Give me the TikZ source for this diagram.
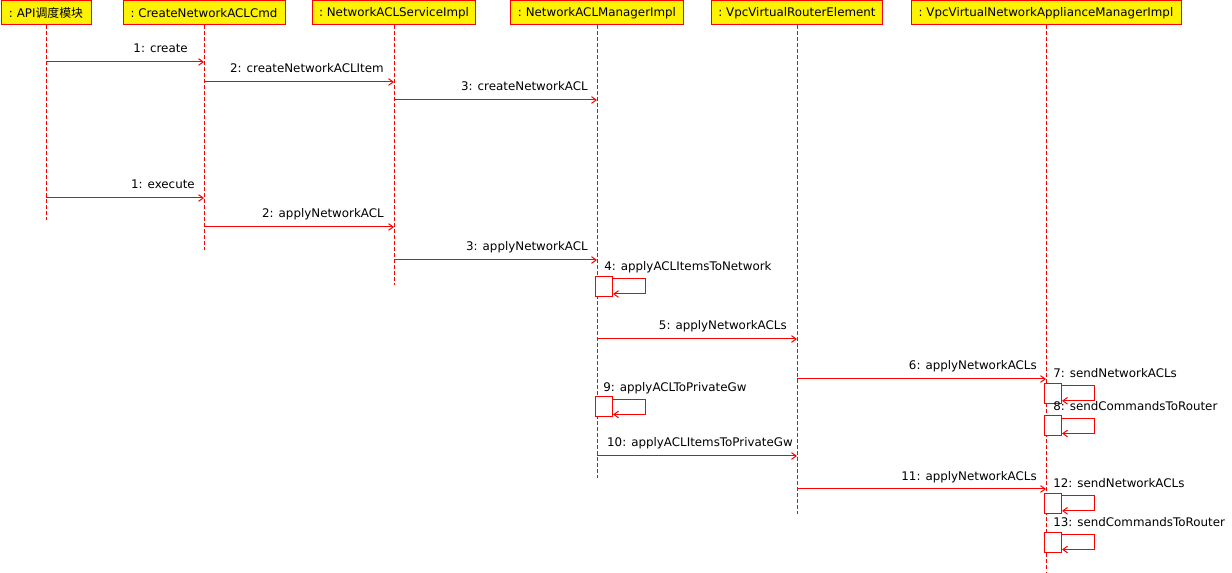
\documentclass[tikz,border=0pt]{standalone}
\usepackage{fontspec}
\setmainfont{DejaVu Sans}
\newfontfamily\cjk{Noto Sans CJK SC}
\usetikzlibrary{arrows.meta}
\begin{document}
\begin{tikzpicture}[x=0.75pt,y=-0.75pt,
  font=\fontsize{8.9}{10}\selectfont,
  hdr/.style={draw=red, fill=yellow, line width=0.75pt, minimum height=18pt, inner sep=0pt, anchor=center},
  life/.style={draw=red, line width=0.75pt, dash pattern=on 2.5pt off 2pt},
  msg/.style={draw=red, line width=0.75pt, -{Straight Barb[length=3.5pt,width=5pt]}},
  act/.style={draw=red, fill=white, line width=0.75pt, minimum width=12.75pt, minimum height=15pt, inner sep=0pt},
  lbl/.style={inner sep=0pt, text=black}]
\useasboundingbox (0,0) rectangle (1232,573);

% headers
\node[hdr, minimum width=67.5pt]  (h1) at (46,13)   {:~API{\cjk 调度模块}};
\node[hdr, minimum width=121.5pt] (h2) at (204,13)  {:~CreateNetworkACLCmd};
\node[hdr, minimum width=122.5pt] (h3) at (394,13)  {:~NetworkACLServiceImpl};
\node[hdr, minimum width=130.2pt] (h4) at (597,13)  {:~NetworkACLManagerImpl};
\node[hdr, minimum width=128.2pt] (h5) at (797,13)  {:~VpcVirtualRouterElement};
\node[hdr, minimum width=202.5pt] (h6) at (1046,13) {:~VpcVirtualNetworkApplianceManagerImpl};

% lifeline ends
\coordinate (e1) at (46,220);
\coordinate (e2) at (204,250);
\coordinate (e3) at (394,285);
\coordinate (e4) at (597,478);
\coordinate (e5) at (797,514);
\coordinate (e6) at (1046,572);
\draw[life] (h1.south) -- (e1);
\draw[life] (h2.south) -- (e2);
\draw[life] (h3.south) -- (e3);
\draw[life] (h4.south) -- (e4);
\draw[life] (h5.south) -- (e5);
\draw[life] (h6.south) -- (e6);

% messages
\draw[msg] (h1 |- 0,62) -- (h2 |- 0,62);
\node[lbl, anchor=base east] (m1) at (188,53) {1: create};
\draw[msg] (h2 |- 0,82) -- (h3 |- 0,82);
\node[lbl, anchor=base east] (m2) at (384,73) {2: createNetworkACLItem};
\draw[msg] (h3 |- 0,100) -- (h4 |- 0,100);
\node[lbl, anchor=base east] (m3) at (588,91) {3: createNetworkACL};

\draw[msg] (h1 |- 0,198) -- (h2 |- 0,198);
\node[lbl, anchor=base east] (n1) at (195,189) {1: execute};
\draw[msg] (h2 |- 0,227) -- (h3 |- 0,227);
\node[lbl, anchor=base east] (n2) at (384,218) {2: applyNetworkACL};
\draw[msg] (h3 |- 0,260) -- (h4 |- 0,260);
\node[lbl, anchor=base east] (n3) at (588,251) {3: applyNetworkACL};

% 4 self
\node[act] (a4) at (604,286.5) {};
\node[lbl, anchor=base west] (n4) at (604,271) {4: applyACLItemsToNetwork};
\draw[msg] ([yshift=-2.25pt]a4.north east) -- ++(32,0) |- ([yshift=2.25pt]a4.south east);

\draw[msg] (h4 |- 0,339) -- (h5 |- 0,339);
\node[lbl, anchor=base east] (n5) at (787,330) {5: applyNetworkACLs};
\draw[msg] (h5 |- 0,379) -- (h6 |- 0,379);
\node[lbl, anchor=base east] (n6) at (1037,370) {6: applyNetworkACLs};

% 7, 8 self
\node[act] (a7) at (1053,393.3) {};
\node[lbl, anchor=base west] (n7) at (1053,378) {7: sendNetworkACLs};
\draw[msg] ([yshift=-2.25pt]a7.north east) -- ++(32,0) |- ([yshift=2.25pt]a7.south east);
\node[act] (a8) at (1053,426) {};
\node[lbl, anchor=base west] (n8) at (1053,411) {8: sendCommandsToRouter};
\draw[msg] ([yshift=-2.25pt]a8.north east) -- ++(32,0) |- ([yshift=2.25pt]a8.south east);

% 9 self
\node[act] (a9) at (604,407) {};
\node[lbl, anchor=base west] (n9) at (603,392) {9: applyACLToPrivateGw};
\draw[msg] ([yshift=-2.25pt]a9.north east) -- ++(32,0) |- ([yshift=2.25pt]a9.south east);

\draw[msg] (h4 |- 0,456) -- (h5 |- 0,456);
\node[lbl, anchor=base east] (n10) at (793,447) {10: applyACLItemsToPrivateGw};
\draw[msg] (h5 |- 0,489) -- (h6 |- 0,489);
\node[lbl, anchor=base east] (n11) at (1037,480) {11: applyNetworkACLs};

% 12, 13 self
\node[act] (a12) at (1053,503.3) {};
\node[lbl, anchor=base west] (n12) at (1053,488) {12: sendNetworkACLs};
\draw[msg] ([yshift=-2.25pt]a12.north east) -- ++(32,0) |- ([yshift=2.25pt]a12.south east);
\node[act] (a13) at (1053,542) {};
\node[lbl, anchor=base west] (n13) at (1053,527) {13: sendCommandsToRouter};
\draw[msg] ([yshift=-2.25pt]a13.north east) -- ++(32,0) |- ([yshift=2.25pt]a13.south east);
\end{tikzpicture}
\end{document}
